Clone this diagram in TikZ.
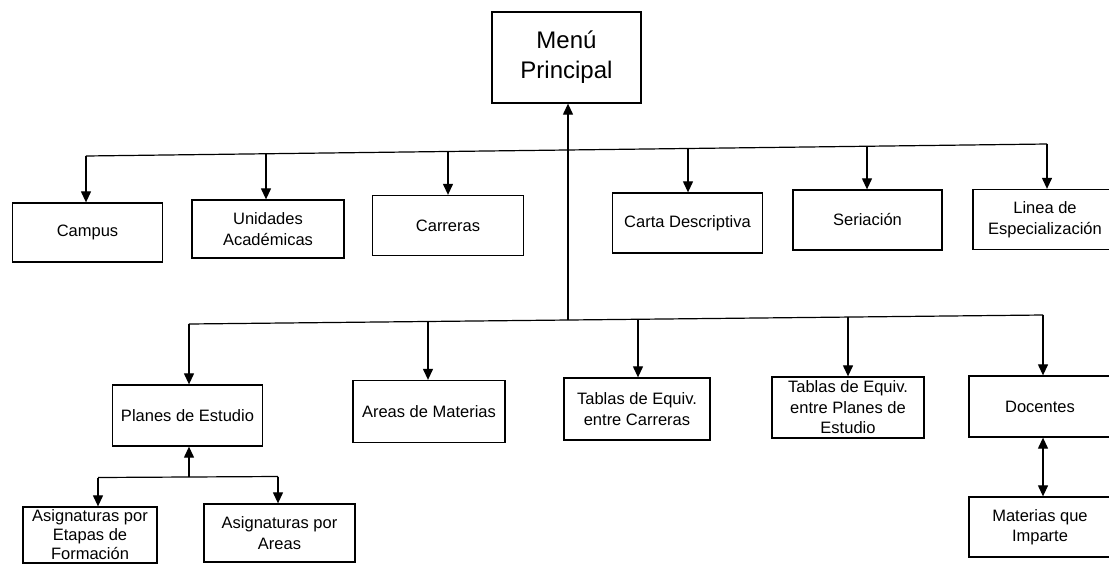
\documentclass[tikz,border=0pt]{standalone}
\usepackage{fontspec}
\setmainfont{Liberation Sans}
\usetikzlibrary{arrows.meta}
\tikzset{
  box/.style={draw, line width=1.3pt, inner sep=0pt, align=center,
    font=\fontsize{16.5}{20.5}\selectfont},
  conn/.style={line width=1.2pt},
  arr/.style={conn, -{Triangle[width=10pt,length=11pt]}},
  darr/.style={conn, {Triangle[width=10pt,length=11pt]}-{Triangle[width=10pt,length=11pt]}}
}
\begin{document}
\begin{tikzpicture}[x=1pt,y=-1pt]
\clip (0,0) rectangle (1109,563);
\fill[white] (0,0) rectangle (1109,563);
% nodes
\node[box, minimum width=149pt, minimum height=91pt, font=\fontsize{24}{30}\selectfont] (menu) at (566.5,57.5) {Menú\\Principal};
\node[box, minimum width=150pt, minimum height=59pt] (campus) at (87.5,232.5) {Campus};
\node[box, minimum width=152pt, minimum height=58pt] (unidades) at (268,229) {Unidades\\Académicas};
\node[box, minimum width=151pt, minimum height=60pt] (carreras) at (448,225.5) {Carreras};
\node[box, minimum width=150pt, minimum height=60pt] (carta) at (687.5,223) {Carta Descriptiva};
\node[box, minimum width=149pt, minimum height=60pt] (seriacion) at (867.5,220) {Seriación};
\node[box, minimum width=144pt, minimum height=60pt] (linea) at (1045,219.5) {Linea de\\Especialización};
\node[box, minimum width=150pt, minimum height=61pt] (planes) at (187.5,415.5) {Planes de Estudio};
\node[box, minimum width=152pt, minimum height=62pt] (areas) at (429,411.5) {Areas de Materias};
\node[box, minimum width=146pt, minimum height=62pt] (tablas1) at (637,409) {Tablas de Equiv.\\entre Carreras};
\node[box, minimum width=152pt, minimum height=61pt] (tablas2) at (848,407.5) {Tablas de Equiv.\\entre Planes de\\Estudio};
\node[box, minimum width=142pt, minimum height=61pt] (docentes) at (1040,406.5) {Docentes};
\node[box, minimum width=142pt, minimum height=60pt] (materias) at (1040,527) {Materias que\\Imparte};
\node[box, minimum width=134pt, minimum height=56pt, font=\fontsize{16.5}{19}\selectfont] (asig1) at (90,535) {Asignaturas por\\Etapas de\\Formación};
\node[box, minimum width=151pt, minimum height=58pt] (asig2) at (279.5,533) {Asignaturas por\\Areas};
% bus coordinates (scan is slightly tilted)
\coordinate (t1) at (86,156);
\coordinate (t2) at (266,153.8);
\coordinate (t3) at (448,151.5);
\coordinate (t4) at (688,148.5);
\coordinate (t5) at (867,146.2);
\coordinate (t6) at (1047,144);
\coordinate (b0) at (568,320);
\coordinate (b1) at (189,324);
\coordinate (b2) at (428,321.5);
\coordinate (b3) at (638,319.3);
\coordinate (b4) at (848,317);
\coordinate (b5) at (1043,315);
\coordinate (p0) at (189,477);
\coordinate (p1) at (98,477.5);
\coordinate (p2) at (278,476.5);
% connectors
\draw[arr] (b0) -- (b0 |- menu.south);
\draw[conn] (t1) -- (t6);
\draw[arr] (t1) -- (t1 |- campus.north);
\draw[arr] (t2) -- (t2 |- unidades.north);
\draw[arr] (t3) -- (t3 |- carreras.north);
\draw[arr] (t4) -- (t4 |- carta.north);
\draw[arr] (t5) -- (t5 |- seriacion.north);
\draw[arr] (t6) -- (t6 |- linea.north);
\draw[conn] (b1) -- (b5);
\draw[arr] (b1) -- (b1 |- planes.north);
\draw[arr] (b2) -- (b2 |- areas.north);
\draw[arr] (b3) -- (b3 |- tablas1.north);
\draw[arr] (b4) -- (b4 |- tablas2.north);
\draw[arr] (b5) -- (b5 |- docentes.north);
\draw[arr] (p0) -- (p0 |- planes.south);
\draw[conn] (p1) -- (p2);
\draw[arr] (p1) -- (p1 |- asig1.north);
\draw[arr] (p2) -- (p2 |- asig2.north);
\draw[darr] (b5 |- docentes.south) -- (b5 |- materias.north);
\end{tikzpicture}
\end{document}
